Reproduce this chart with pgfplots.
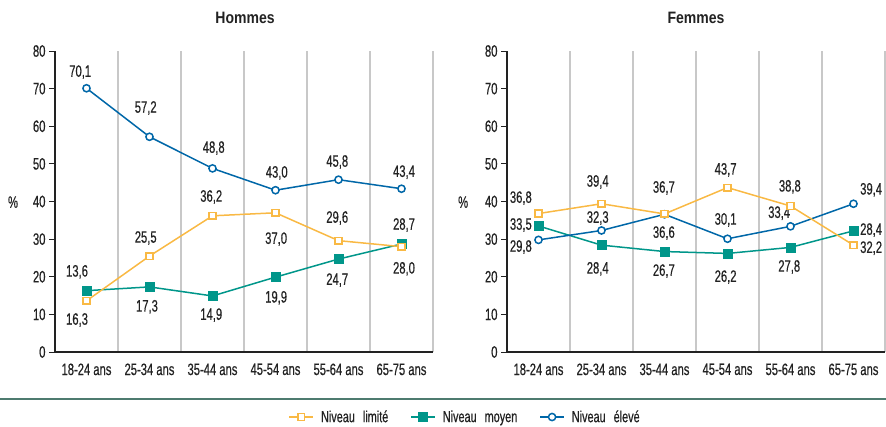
\documentclass[border=0pt]{standalone}
\usepackage{fontspec}
\setmainfont{Liberation Sans}[FakeStretch=0.68, FakeBold=0.5]
\newfontfamily\titlefont{Liberation Sans Bold}[FakeStretch=0.85]
\usepackage{pgfplots}
\pgfplotsset{compat=1.18}
\definecolor{lim}{HTML}{F9B944}
\definecolor{moy}{HTML}{00968A}
\definecolor{elev}{HTML}{0067A8}
\definecolor{txt}{HTML}{222222}
\definecolor{gridc}{HTML}{C8C8C8}
\definecolor{sep}{HTML}{4E7B6F}
\tikzset{
  plim/.style={draw=lim, line width=1.5pt, mark=square*, mark size=3.3pt, mark options={fill=white, draw=lim, line width=1.5pt}},
  pmoy/.style={draw=moy, line width=1.5pt, mark=square*, mark size=4.5pt, mark options={fill=moy, draw=moy, line width=0.5pt}},
  pelev/.style={draw=elev, line width=1.5pt, mark=*, mark size=3.6pt, mark options={fill=white, draw=elev, line width=1.5pt}},
  lbl/.style={font=\fontsize{16.5}{16.5}\selectfont, text=txt, inner sep=0pt, anchor=center},
}
\pgfplotsset{
  mystyle/.style={
    scale only axis, width=378pt, height=301pt,
    xmin=-0.5, xmax=5.5, ymin=0, ymax=80,
    axis x line*=bottom, axis y line*=left,
    x axis line style={-, draw=txt, line width=1.8pt},
    y axis line style={-, draw=txt, line width=1.8pt},
    xtick={0,...,5},
    xticklabels={18-24 ans,25-34 ans,35-44 ans,45-54 ans,55-64 ans,65-75 ans},
    minor xtick={0.5,1.5,2.5,3.5,4.5,5.5},
    xminorgrids, minor x grid style={draw=gridc, line width=1.3pt},
    x tick style={draw=none},
    minor tick length=0pt,
    ytick={0,10,...,80},
    y tick style={draw=txt, line width=1pt},
    tick align=outside, major tick length=6pt,
    tick label style={font=\fontsize{16.5}{16.5}\selectfont, text=txt},
    /pgf/number format/assume math mode=true,
    xticklabel style={yshift=-2pt},
    clip=false,
  },
}
\begin{document}
\begin{tikzpicture}
\path[use as bounding box] (0,0) rectangle (886pt,426pt);
\node[font=\titlefont\fontsize{16.5}{16.5}\selectfont, text=txt] at (245pt,408pt) {Hommes};
\node[font=\titlefont\fontsize{16.5}{16.5}\selectfont, text=txt] at (696pt,408pt) {Femmes};
\draw[sep, line width=1.5pt] (0,27pt) -- (886pt,27pt);

\begin{axis}[mystyle, at={(55pt,74pt)}, anchor=south west,
  legend columns=3,
  legend style={at={(axis description cs:1.085,-0.216)}, anchor=center, draw=none, fill=none,
    font=\fontsize{16}{16}\selectfont, text=txt,
    /tikz/every odd column/.append style={column sep=5pt},
    /tikz/every even column/.append style={column sep=20pt}},
  legend image code/.code={\draw[#1, mark repeat=2, mark phase=2] plot coordinates {(0pt,0pt)(12pt,0pt)(24pt,0pt)};},
]
\addlegendimage{plim}
\addlegendentry{Niveau\hspace{0.5em}limité}
\addlegendimage{pmoy}
\addlegendentry{Niveau\hspace{0.5em}moyen}
\addlegendimage{pelev}
\addlegendentry{Niveau\hspace{0.5em}élevé}
\addplot[pmoy, forget plot] coordinates {(0,16.3)(1,17.3)(2,14.9)(3,19.9)(4,24.7)(5,28.7)};
\addplot[pelev, forget plot] coordinates {(0,70.1)(1,57.2)(2,48.8)(3,43.0)(4,45.8)(5,43.4)};
\addplot[plim, forget plot] coordinates {(0,13.6)(1,25.5)(2,36.2)(3,37.0)(4,29.6)(5,28.0)};
\node[lbl] at (axis description cs:-0.111,0.498) {\%};
\node[lbl] at (axis cs:-0.10,74.4) {70,1};
\node[lbl] at (axis cs:0.94,64.85) {57,2};
\node[lbl] at (axis cs:2.02,54.2) {48,8};
\node[lbl] at (axis cs:3.02,47.6) {43,0};
\node[lbl] at (axis cs:3.98,50.5) {45,8};
\node[lbl] at (axis cs:5.04,47.8) {43,4};
\node[lbl] at (axis cs:-0.15,21.3) {13,6};
\node[lbl] at (axis cs:0.94,30.3) {25,5};
\node[lbl] at (axis cs:1.98,41.2) {36,2};
\node[lbl] at (axis cs:3.01,30.0) {37,0};
\node[lbl] at (axis cs:3.98,35.6) {29,6};
\node[lbl] at (axis cs:5.04,22.1) {28,0};
\node[lbl] at (axis cs:-0.15,8.5) {16,3};
\node[lbl] at (axis cs:0.96,12.0) {17,3};
\node[lbl] at (axis cs:1.98,9.8) {14,9};
\node[lbl] at (axis cs:3.01,14.4) {19,9};
\node[lbl] at (axis cs:3.98,19.1) {24,7};
\node[lbl] at (axis cs:5.04,33.75) {28,7};
\end{axis}

\begin{axis}[mystyle, at={(507pt,74pt)}, anchor=south west]
\addplot[pmoy] coordinates {(0,33.5)(1,28.4)(2,26.7)(3,26.2)(4,27.8)(5,32.2)};
\addplot[pelev] coordinates {(0,29.8)(1,32.3)(2,36.6)(3,30.1)(4,33.4)(5,39.4)};
\addplot[plim] coordinates {(0,36.8)(1,39.4)(2,36.7)(3,43.7)(4,38.8)(5,28.4)};
\node[lbl] at (axis description cs:-0.116,0.498) {\%};
\node[lbl] at (axis cs:-0.28,40.9) {36,8};
\node[lbl] at (axis cs:-0.28,33.75) {33,5};
\node[lbl] at (axis cs:-0.28,27.9) {29,8};
\node[lbl] at (axis cs:0.94,45.2) {39,4};
\node[lbl] at (axis cs:0.94,35.6) {32,3};
\node[lbl] at (axis cs:0.94,22.1) {28,4};
\node[lbl] at (axis cs:1.99,43.6) {36,7};
\node[lbl] at (axis cs:1.99,31.6) {36,6};
\node[lbl] at (axis cs:1.99,21.5) {26,7};
\node[lbl] at (axis cs:2.97,48.4) {43,7};
\node[lbl] at (axis cs:2.97,35.1) {30,1};
\node[lbl] at (axis cs:2.97,19.9) {26,2};
\node[lbl] at (axis cs:3.99,43.9) {38,8};
\node[lbl] at (axis cs:3.82,36.9) {33,4};
\node[lbl] at (axis cs:3.98,22.6) {27,8};
\node[lbl] at (axis cs:5.28,43.1) {39,4};
\node[lbl] at (axis cs:5.28,32.4) {28,4};
\node[lbl] at (axis cs:5.28,27.6) {32,2};
\end{axis}
\end{tikzpicture}
\end{document}
